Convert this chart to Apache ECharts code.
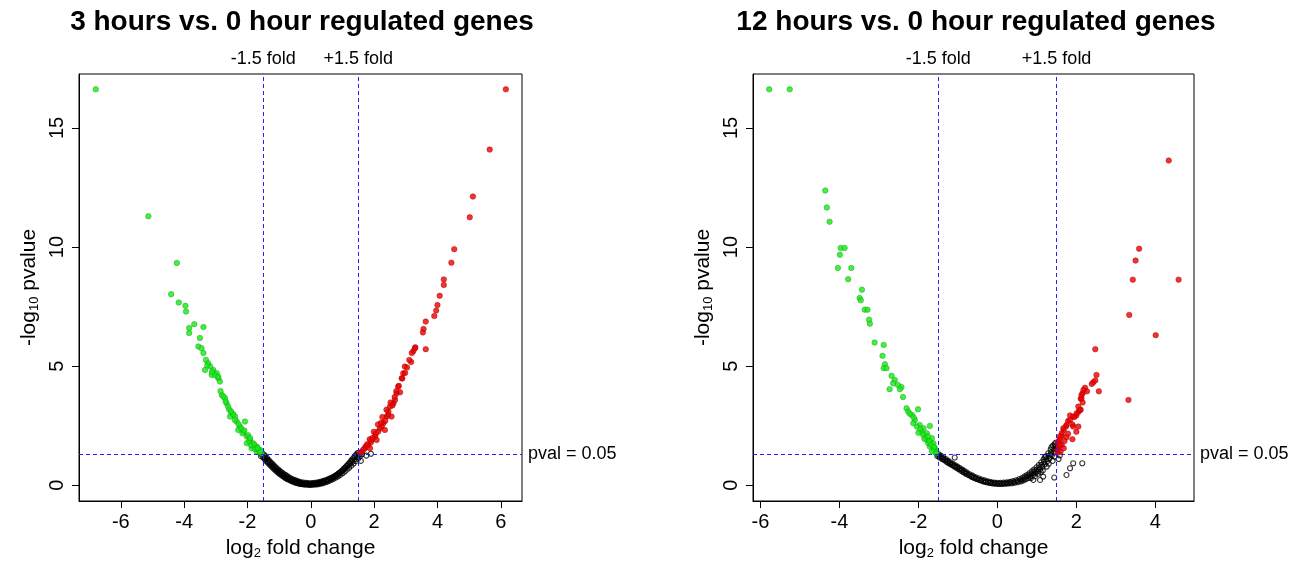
<!DOCTYPE html>
<html>
<head>
<meta charset="utf-8">
<title>volcano</title>
<script src="https://cdn.jsdelivr.net/npm/echarts@6/dist/echarts.min.js"></script>
<style>
body{margin:0;background:#fff;}
#main{width:1305px;height:572px;}
</style>
</head>
<body>
<div id="main"></div>
<script>
// 3 hours vs 0 hour
var down3=[[-6.79,16.62],[-5.13,11.29],[-4.23,9.33],[-4.41,8.02],[-4.17,7.67],[-3.96,7.53],[-3.94,7.29],[-3.68,6.76],[-3.39,6.64],[-3.84,6.6],[-3.84,6.39],[-3.50,6.18],[-3.55,5.82],[-3.45,5.75],[-3.39,5.55],[-3.31,5.26],[-3.24,5.12],[-3.18,4.98],[-3.08,4.84],[-2.97,4.70],[-2.92,4.49],[-2.87,4.35],[-3.34,4.84],[-3.13,4.63],[-2.81,3.79],[-2.71,3.65],[-2.66,3.44],[-2.61,3.30],[-2.50,3.02],[-2.39,2.88],[-2.34,2.67],[-2.24,2.46],[-2.13,2.25],[-2.08,2.67],[-2.02,2.04],[-1.92,1.90],[-1.82,1.76],[-1.71,1.62],[-1.60,1.48],[-2.55,2.88],[-2.29,2.32],[-2.02,1.76],[-1.87,1.55],[-1.71,1.41],[-1.55,1.34],[-2.76,3.72],[-2.69,3.52],[-2.58,3.18],[-2.45,2.98],[-2.40,2.74],[-2.20,2.38],[-2.16,2.18],[-1.98,2.10],[-1.95,1.84],[-1.88,1.68],[-1.78,1.70],[-1.76,1.52],[-1.66,1.50],[-1.62,1.38],[-1.58,1.42],[-2.85,3.95],[-3.02,4.62],[-3.27,5.03],[-3.12,4.76],[-2.92,4.55],[-2.52,3.10],[-2.28,2.56],[-2.10,2.30],[-1.92,1.98],[-1.68,1.56]];
var up3=[[6.16,16.62],[5.65,14.09],[5.12,12.12],[5.02,11.25],[4.53,9.91],[4.44,9.34],[4.2,8.64],[4.2,8.41],[4.07,7.95],[4.0,7.56],[3.96,7.33],[3.9,7.1],[3.63,6.87],[3.56,6.56],[3.54,6.41],[3.63,5.71],[3.3,5.79],[3.24,5.63],[3.17,5.17],[3.29,5.75],[3.19,5.55],[3.11,5.26],[2.97,4.98],[2.92,4.70],[2.87,4.49],[2.76,4.14],[2.71,3.86],[2.66,3.58],[2.61,3.44],[2.82,3.9],[2.50,3.30],[2.45,3.09],[2.40,2.88],[2.29,2.60],[2.24,2.46],[2.13,2.25],[2.03,2.04],[1.92,1.90],[1.82,1.69],[1.71,1.55],[1.61,1.41],[2.55,2.88],[2.34,2.32],[2.08,1.90],[1.87,1.55],[3.04,4.94],[2.98,4.71],[2.89,4.48],[2.78,4.17],[2.65,3.70],[2.52,3.47],[2.39,3.17],[2.26,2.86],[2.12,2.55],[1.99,2.24],[1.86,1.93],[1.73,1.62],[1.60,1.39],[2.70,3.95],[2.58,3.35],[2.35,2.70],[2.18,2.38],[2.05,2.15],[1.95,1.98],[1.78,1.72],[1.66,1.50],[1.56,1.36],[2.44,2.95],[2.22,2.62],[1.90,1.80]];
var ns3=[[-1.60,1.38],[-1.57,1.22],[-1.53,1.34],[-1.50,1.16],[-1.48,1.28],[-1.45,1.08],[-1.43,1.22],[-1.40,1.00],[-1.38,1.14],[-1.35,0.94],[-1.33,1.06],[-1.30,0.86],[-1.28,0.98],[-1.25,0.80],[-1.23,0.92],[-1.20,0.73],[-1.18,0.85],[-1.15,0.66],[-1.13,0.78],[-1.10,0.60],[-1.08,0.72],[-1.05,0.55],[-1.03,0.66],[-1.00,0.49],[-0.98,0.60],[-0.95,0.44],[-0.93,0.55],[-0.90,0.39],[-0.88,0.50],[-0.85,0.35],[-0.83,0.45],[-0.80,0.30],[-0.78,0.41],[-0.75,0.26],[-0.72,0.36],[-0.69,0.22],[-0.66,0.31],[-0.63,0.18],[-0.60,0.27],[-0.57,0.15],[-0.54,0.23],[-0.51,0.12],[-0.48,0.20],[-0.45,0.09],[-0.42,0.17],[-0.39,0.07],[-0.36,0.14],[-0.33,0.05],[-0.30,0.12],[-0.26,0.04],[-0.23,0.11],[-0.19,0.02],[-0.16,0.10],[-0.12,0.02],[-0.09,0.09],[-0.05,0.01],[-0.02,0.08],[0.02,0.01],[0.05,0.09],[0.09,0.02],[0.12,0.10],[0.16,0.03],[0.19,0.11],[0.23,0.04],[0.26,0.13],[0.30,0.06],[0.33,0.15],[0.37,0.08],[0.40,0.18],[0.44,0.11],[0.47,0.21],[0.51,0.14],[0.54,0.25],[0.58,0.18],[0.61,0.29],[0.65,0.22],[0.68,0.33],[0.72,0.27],[0.75,0.38],[0.79,0.32],[0.82,0.44],[0.86,0.37],[0.89,0.50],[0.93,0.43],[0.96,0.57],[1.00,0.50],[1.03,0.64],[1.07,0.57],[1.10,0.72],[1.14,0.65],[1.17,0.81],[1.21,0.73],[1.24,0.90],[1.28,0.82],[1.31,0.99],[1.35,0.91],[1.38,1.09],[1.42,1.01],[1.45,1.19],[1.49,1.11],[1.52,1.28],[1.55,1.21],[1.58,1.02],[1.62,1.30],[1.75,1.24],[1.90,1.32],
	[-1.55,1.28],[-1.46,1.17],[-1.41,1.10],[-1.36,1.02],[-1.31,0.95],[-1.26,0.88],[-1.21,0.81],[-1.16,0.74],[-1.11,0.68],[-1.06,0.62],[-1.01,0.56],[-0.96,0.51],[-0.91,0.46],[-0.86,0.41],[-0.81,0.37],[-0.76,0.32],[-0.71,0.29],[-0.67,0.26],[-0.62,0.22],[-0.58,0.20],[-0.53,0.17],[-0.49,0.15],[-0.44,0.13],[-0.40,0.11],[-0.35,0.10],[-0.31,0.08],[-0.27,0.07],[-0.22,0.06],[-0.17,0.05],[-0.13,0.05],[-0.08,0.04],[-0.03,0.04],[0.01,0.05],[0.06,0.05],[0.11,0.06],[0.15,0.07],[0.20,0.08],[0.25,0.09],[0.29,0.10],[0.34,0.12],[0.39,0.13],[0.43,0.16],[0.48,0.18],[0.53,0.20],[0.57,0.23],[0.62,0.26],[0.66,0.29],[0.71,0.33],[0.75,0.36],[0.80,0.40],[0.84,0.45],[0.88,0.49],[0.92,0.54],[0.97,0.59],[1.01,0.64],[1.05,0.70],[1.09,0.75],[1.13,0.81],[1.18,0.88],[1.22,0.94],[1.26,1.01],[1.30,1.07],[1.34,1.14],[1.39,1.21],[1.43,1.28],[1.47,1.34],[1.50,1.36]];

// 12 hours vs 0 hour
var down12=[[-5.78,16.62],[-5.26,16.62],[-4.36,12.37],[-4.32,11.66],[-4.25,11.06],[-3.97,9.96],[-3.87,9.96],[-3.99,9.68],[-4.04,9.12],[-3.70,9.12],[-3.78,8.65],[-3.43,8.21],[-3.49,7.86],[-3.46,7.76],[-3.36,7.37],[-3.29,7.37],[-3.25,6.95],[-3.23,6.78],[-3.11,5.99],[-2.88,5.89],[-2.91,5.43],[-2.85,5.08],[-2.88,4.91],[-2.81,4.91],[-2.68,4.59],[-2.60,4.42],[-2.64,4.28],[-2.52,4.21],[-2.43,4.12],[-2.73,4.03],[-2.47,4.03],[-2.39,3.70],[-2.30,3.23],[-2.26,3.09],[-2.01,3.19],[-2.17,2.95],[-2.09,2.74],[-1.97,2.53],[-1.87,2.39],[-1.71,2.49],[-1.79,2.18],[-1.66,1.97],[-1.62,1.76],[-1.58,1.55],[-2.13,2.60],[-1.92,2.25],[-1.79,1.90],[-1.75,1.76],[-1.71,1.62],[-1.62,1.48],[-1.54,1.41],[-2.04,2.46],[-1.83,2.04],[-2.22,3.00],[-2.12,2.85],[-1.95,2.35],[-1.88,2.12],[-1.72,1.85],[-1.68,1.70],[-1.60,1.60],[-1.56,1.35],[-1.66,1.42],[-1.85,1.95],[-2.00,2.20],[-1.76,2.05]];
var up12=[[4.34,13.63],[3.59,9.93],[3.50,9.43],[3.43,8.63],[4.59,8.63],[3.34,7.15],[4.01,6.3],[2.48,5.71],[3.32,3.58],[2.51,4.63],[2.43,4.32],[2.48,4.40],[2.39,4.25],[2.57,3.94],[2.22,4.09],[2.27,3.94],[2.16,3.86],[2.11,3.63],[2.16,3.47],[2.06,3.09],[2.11,3.17],[2.00,2.93],[1.95,2.86],[1.84,2.93],[1.79,2.70],[1.90,2.55],[1.74,2.47],[1.68,2.31],[1.79,2.16],[1.63,2.08],[2.00,2.24],[1.90,1.93],[1.58,1.93],[1.53,1.78],[1.63,1.70],[1.68,1.55],[1.53,1.47],[2.18,4.00],[2.13,3.65],[2.05,3.30],[2.01,3.02],[1.92,2.88],[1.84,2.74],[1.75,2.53],[1.67,2.39],[1.63,2.18],[1.58,2.04],[1.54,1.83],[1.75,2.01],[1.92,2.46],[2.05,2.46],[2.09,3.16],[2.13,3.79],[1.56,1.62],[1.60,1.40],[1.52,1.35],[1.70,1.85],[1.58,1.68]];
var ns12=[[-1.55,1.36],[-1.52,1.22],[-1.49,1.30],[-1.46,1.16],[-1.43,1.24],[-1.40,1.10],[-1.37,1.18],[-1.34,1.04],[-1.31,1.10],[-1.28,0.97],[-1.25,1.03],[-1.22,0.91],[-1.19,0.96],[-1.16,0.85],[-1.13,0.90],[-1.10,0.79],[-1.07,0.84],[-1.04,0.73],[-1.01,0.78],[-0.98,0.67],[-0.95,0.72],[-0.92,0.60],[-0.89,0.66],[-0.86,0.54],[-0.83,0.59],[-0.80,0.48],[-0.77,0.53],[-0.73,0.42],[-0.70,0.46],[-0.66,0.36],[-0.63,0.40],[-0.59,0.31],[-0.56,0.34],[-0.52,0.26],[-0.48,0.29],[-0.44,0.21],[-0.40,0.24],[-0.36,0.17],[-0.32,0.20],[-0.28,0.13],[-0.24,0.16],[-0.20,0.10],[-0.16,0.13],[-0.12,0.07],[-0.08,0.11],[-0.04,0.06],[0.00,0.10],[0.04,0.05],[0.08,0.10],[0.12,0.05],[0.16,0.11],[0.20,0.06],[0.24,0.12],[0.28,0.07],[0.32,0.14],[0.36,0.08],[0.40,0.17],[0.44,0.10],[0.48,0.21],[0.52,0.13],[0.56,0.26],[0.60,0.16],[0.63,0.31],[0.66,0.20],[0.69,0.37],[0.72,0.25],[0.75,0.43],[0.78,0.30],[0.81,0.50],[0.84,0.36],[0.87,0.58],[0.90,0.43],[0.93,0.66],[0.96,0.50],[0.99,0.75],[1.02,0.58],[1.05,0.85],[1.08,0.67],[1.11,0.96],[1.14,0.77],[1.17,1.08],[1.20,0.88],[1.23,1.21],[1.26,1.00],[1.29,1.34],[1.32,1.12],[1.35,1.50],[1.38,1.25],[1.41,1.66],[1.44,1.38],[1.47,1.78],[1.50,1.50],[1.10,0.55],[1.25,0.78],[1.40,1.02],[0.95,0.38],[1.20,1.18],[1.35,1.28],[-1.08,1.16],[2.15,0.92],[1.92,0.92],[1.84,0.71],[1.75,0.43],[1.44,0.32],[1.08,0.22],[1.16,0.36],[0.91,0.22],[1.55,1.10],[1.58,1.25],
	[-1.50,1.26],[-1.44,1.19],[-1.38,1.12],[-1.32,1.05],[-1.26,0.99],[-1.20,0.92],[-1.14,0.86],[-1.08,0.80],[-1.02,0.74],[-0.96,0.68],[-0.90,0.62],[-0.84,0.55],[-0.78,0.49],[-0.72,0.43],[-0.66,0.37],[-0.60,0.32],[-0.54,0.28],[-0.48,0.24],[-0.42,0.20],[-0.36,0.16],[-0.30,0.14],[-0.24,0.12],[-0.18,0.10],[-0.12,0.09],[-0.06,0.08],[0.02,0.07],[0.10,0.07],[0.18,0.08],[0.26,0.09],[0.34,0.11],[0.42,0.13],[0.50,0.17],[0.58,0.21],[0.64,0.25],[0.70,0.31],[0.76,0.37],[0.82,0.43],[0.88,0.50],[0.94,0.58],[1.00,0.66],[1.06,0.75],[1.12,0.86],[1.18,0.98],[1.24,1.10],[1.30,1.23],[1.36,1.37],[1.42,1.52],[1.48,1.64],[1.03,0.48],[1.15,0.62],[1.30,0.90],[1.45,1.20],[0.85,0.30],[1.37,1.60],[1.45,1.72]];

var xTicks3=[-6,-4,-2,0,2,4,6];
var xTicks12=[-6,-4,-2,0,2,4];
var yTicks=[0,5,10,15];
var titles=["3 hours vs. 0 hour regulated genes","12 hours vs. 0 hour regulated genes"];
var foldCut=1.5;
var pCut=-Math.log10(0.05);

var font="Liberation Sans, Arial, sans-serif";

function xAxisOpt(idx,min,max,ticks){
	return {
		gridIndex:idx,type:'value',min:min,max:max,
		name:'{a|log}{s|2}{a| fold change}',nameLocation:'middle',nameGap:35,
		nameTextStyle:{rich:{a:{fontSize:21,fontFamily:font,color:'#000'},s:{fontSize:13,fontFamily:font,color:'#000',padding:[11,0,0,0]}}},
		axisLine:{show:true,onZero:false,lineStyle:{color:'#000',width:1}},
		axisTick:{show:true,length:7,customValues:ticks,lineStyle:{color:'#000'}},
		axisLabel:{customValues:ticks,fontSize:20,fontFamily:font,color:'#000',margin:11},
		splitLine:{show:false}
	};
}
function yAxisOpt(idx){
	return {
		gridIndex:idx,type:'value',min:-0.664,max:17.264,
		name:'{a|-log}{s|10}{a| pvalue}',nameLocation:'middle',nameGap:38,
		nameTextStyle:{rich:{a:{fontSize:21,fontFamily:font,color:'#000'},s:{fontSize:13,fontFamily:font,color:'#000',padding:[11,0,0,0]}}},
		axisLine:{show:true,onZero:false,lineStyle:{color:'#000',width:1}},
		axisTick:{show:true,length:7,customValues:yTicks,lineStyle:{color:'#000'}},
		axisLabel:{customValues:yTicks,rotate:90,fontSize:20,fontFamily:font,color:'#000',margin:12},
		splitLine:{show:false}
	};
}
function cutLines(){
	return {
		silent:true,symbol:'none',animation:false,
		lineStyle:{color:'#2222ff',type:[4,3],width:1},
		label:{position:'end',color:'#000',fontSize:18,fontFamily:font,distance:6},
		data:[
			{xAxis:-foldCut,label:{formatter:'-1.5 fold'}},
			{xAxis:foldCut,label:{formatter:'+1.5 fold'}},
			{yAxis:pCut,label:{formatter:'pval = 0.05'}}
		]
	};
}
function pts(idx,data,kind){
	var s={type:'scatter',xAxisIndex:idx,yAxisIndex:idx,data:data,animation:false};
	if(kind=='ns'){
		s.symbolSize=5;
		s.itemStyle={color:'rgba(0,0,0,0)',borderColor:'#000',borderWidth:1.1};
	}else if(kind=='down'){
		s.symbolSize=5.5;
		s.itemStyle={color:'#11ee11',borderColor:'#229922',borderWidth:0.6};
	}else{
		s.symbolSize=5.5;
		s.itemStyle={color:'#ee0000',borderColor:'#aa0000',borderWidth:0.6};
	}
	return s;
}

var myChart=echarts.init(document.getElementById('main'));
var s3=pts(0,ns3,'ns');
s3.markLine=cutLines();
var s12=pts(1,ns12,'ns');
s12.markLine=cutLines();
var option={
	backgroundColor:'#fff',
	title:[
		{text:titles[0],left:297,top:3,textAlign:'center',textStyle:{fontSize:28,fontWeight:'bold',fontFamily:font,color:'#000'}},
		{text:titles[1],left:971,top:3,textAlign:'center',textStyle:{fontSize:28,fontWeight:'bold',fontFamily:font,color:'#000'}}
	],
	grid:[
		{left:79,top:74,width:443,height:427,show:true,borderColor:'#000',borderWidth:1,backgroundColor:'#fff'},
		{left:753,top:74,width:441,height:427,show:true,borderColor:'#000',borderWidth:1,backgroundColor:'#fff'}
	],
	xAxis:[xAxisOpt(0,-7.32,6.67,xTicks3),xAxisOpt(1,-6.19,4.98,xTicks12)],
	yAxis:[yAxisOpt(0),yAxisOpt(1)],
	series:[
		s3,pts(0,down3,'down'),pts(0,up3,'up'),
		s12,pts(1,down12,'down'),pts(1,up12,'up')
	]
};
myChart.setOption(option);
</script>
</body>
</html>
